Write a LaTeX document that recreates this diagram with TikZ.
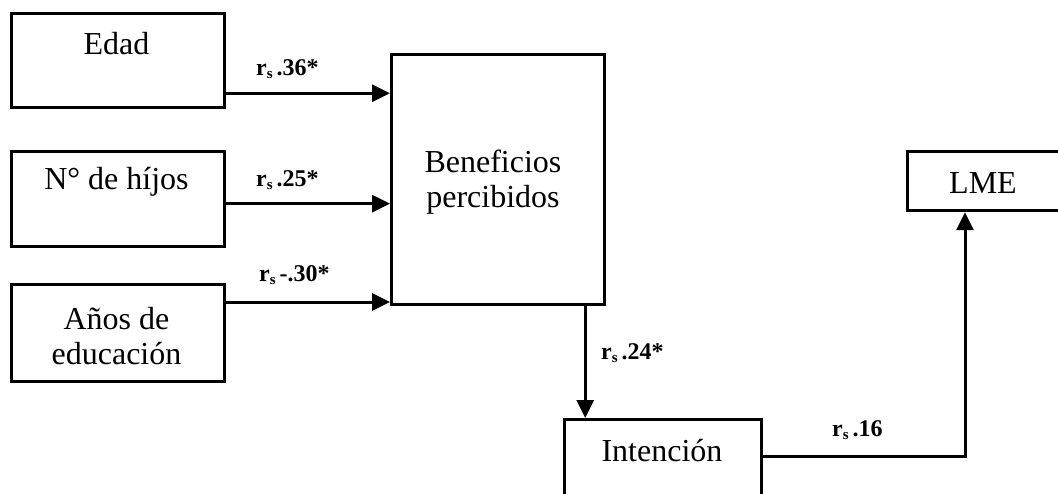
\documentclass[tikz,border=0pt]{standalone}
\usepackage{fontspec}
\setmainfont{Liberation Serif}
\usetikzlibrary{arrows.meta}
\newcommand{\rs}[1]{\textbf{r}\raisebox{-0.35ex}{\fontsize{15}{15}\selectfont\bfseries s}\,\textbf{#1}}
\begin{document}
\begin{tikzpicture}[x=1pt,y=-1pt,
  box/.style={draw, line width=3.2pt, rectangle, inner sep=0pt, anchor=north west},
  txt/.style={font=\fontsize{32}{35}\selectfont, inner sep=0pt, align=center},
  lab/.style={font=\fontsize{24}{26}\selectfont, inner sep=0pt, anchor=base west},
  arr/.style={line width=3pt, -{Triangle[length=18pt,width=17pt]}},
  ln/.style={line width=3pt}]
\useasboundingbox (0,0) rectangle (1058,493);
\clip (0,0) rectangle (1058,493);
% boxes
\node[box, minimum width=213pt, minimum height=94pt] (edad) at (10,12) {};
\node[box, minimum width=213pt, minimum height=95pt] (hijos) at (10,150) {};
\node[box, minimum width=213pt, minimum height=97pt] (anos) at (10,283) {};
\node[box, minimum width=213pt, minimum height=250pt] (ben) at (390,53) {};
\node[box, minimum width=197pt, minimum height=110pt] (int) at (563,418) {};
\node[box, minimum width=170pt, minimum height=59pt] (lme) at (906,150) {};
% texts
\node[txt, anchor=base] (edadT) at (116.5,54) {Edad};
\node[txt, anchor=base] (hijosT) at (116.5,189) {N° de híjos};
\node[txt, anchor=center] (anosT) at (116.5,336) {Años de\\educación};
\node[txt, anchor=center] (benT) at (493,182) {Beneficios\\percibidos};
\node[txt, anchor=base] (intT) at (662,461) {Intención};
\node[txt, anchor=base] (lmeT) at (983,193) {LME};
% connectors
\coordinate (e1) at ([yshift=16pt]edad.south east);
\draw[arr] (e1) -- (e1 -| ben.west);
\coordinate (h1) at ([yshift=-4.5pt]hijos.east);
\draw[arr] (h1) -- (h1 -| ben.west);
\coordinate (a1) at ([yshift=-19pt]anos.north east);
\draw[arr] (a1) -- (a1 -| ben.west);
\coordinate (b1) at ([xshift=-21pt]ben.south east);
\draw[arr] (b1) -- (b1 |- int.north);
\coordinate (i1) at ([yshift=-38pt]int.north east);
\coordinate (l1) at ([xshift=59pt]lme.south west);
\draw[arr] (i1) -| (l1);
% labels
\node[lab] (l36) at (256,75) {\rs{.36*}};
\node[lab] (l25) at (256,186) {\rs{.25*}};
\node[lab] (l30) at (259,281) {\rs{-.30*}};
\node[lab] (l24) at (601,359) {\rs{.24*}};
\node[lab] (l16) at (832,436) {\rs{.16}};
\end{tikzpicture}
\end{document}
